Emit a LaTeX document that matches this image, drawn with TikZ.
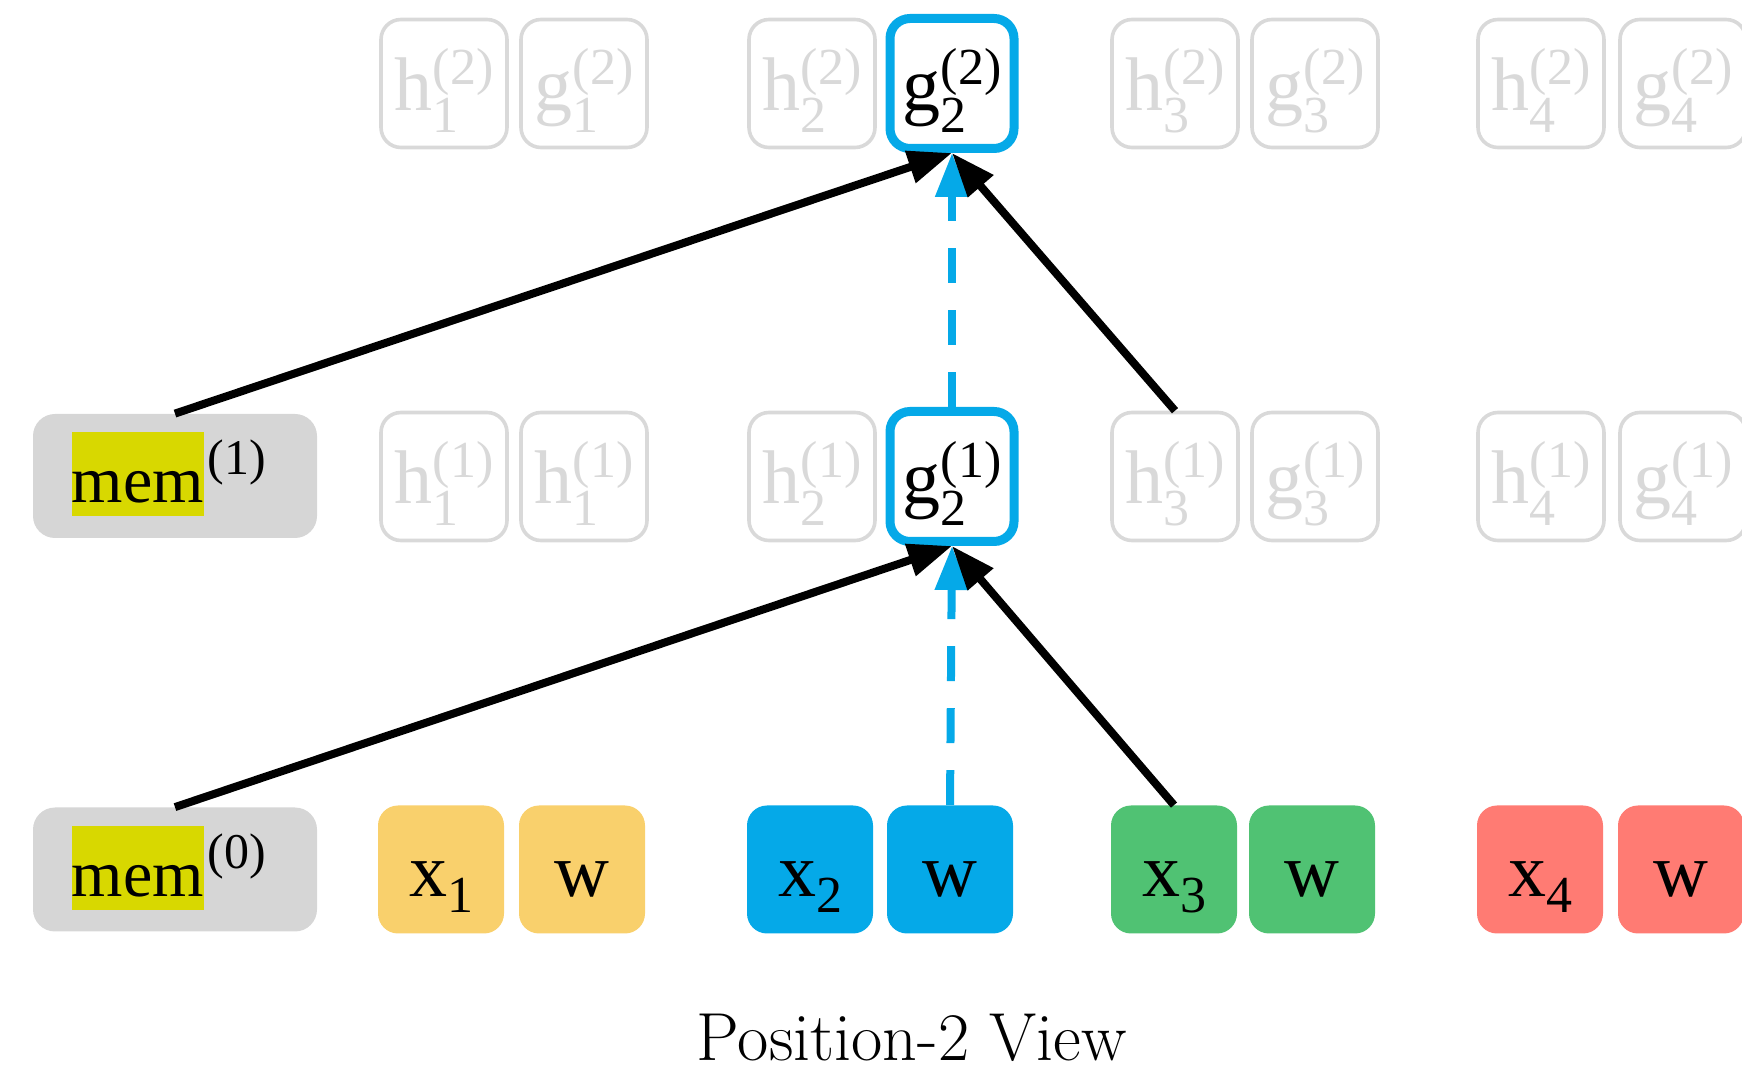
\documentclass[tikz,border=0pt]{standalone}
\usepackage{fontspec}
\newfontfamily\boxfont{Liberation Serif}
\usetikzlibrary{arrows.meta}
\definecolor{fadegray}{HTML}{D9D9D9}
\definecolor{focusblue}{HTML}{05A9E8}
\definecolor{tokyellow}{HTML}{F9D06C}
\definecolor{tokgreen}{HTML}{50C273}
\definecolor{tokred}{HTML}{FF7B73}
\definecolor{memgray}{HTML}{D6D6D6}
\definecolor{memhl}{HTML}{D8D800}
\newcommand{\scrsz}{\fontsize{26}{26}\selectfont}
\newcommand{\hs}[3]{#1\rlap{\raisebox{-11pt}{\scrsz #2}}\raisebox{13pt}{\scrsz(#3)}}
\newcommand{\xs}[2]{#1\raisebox{-8pt}{\scrsz #2}}
\newcommand{\memtxt}[1]{{\setlength{\fboxsep}{0pt}\colorbox{memhl}{\rule[-0.2em]{0pt}{1.27em}mem}}\hspace{2pt}\raisebox{14pt}{\fontsize{25}{25}\selectfont(#1)}}
\tikzset{
  cell/.style={rounded corners=10pt, minimum width=63pt, minimum height=64pt, inner sep=0pt, text height=27pt, text depth=0pt, font=\boxfont\fontsize{38}{40}\selectfont},
  faded/.style={cell, draw=fadegray, line width=1.8pt, text=fadegray, fill=white},
  focus/.style={cell, draw=focusblue, line width=4.5pt, fill=white, text=black, minimum width=62pt, minimum height=65pt},
  tok/.style={cell, text=black, fill=#1},
  membox/.style={rounded corners=11pt, fill=memgray, minimum width=142pt, minimum height=62pt, inner sep=0pt, text height=27pt, text depth=0pt, font=\boxfont\fontsize{33}{38}\selectfont},
  conn/.style={line width=4pt, -{Triangle[length=22pt,width=16pt]}},
  dconn/.style={conn, draw=focusblue, dash pattern=on 17.5pt off 13.5pt}
}
\begin{document}
\begin{tikzpicture}[x=0.5pt,y=-0.5pt]
\useasboundingbox (0,0) rectangle (1742,1074);
\clip (0,0) rectangle (1742,1074);
% layer 2
\node[faded] (h12) at (444,83.5) {\hs{h}{1}{2}};
\node[faded] (g12) at (584,83.5) {\hs{g}{1}{2}};
\node[faded] (h22) at (812,83.5) {\hs{h}{2}{2}};
\node[focus] (g22) at (952,83.5) {\hs{g}{2}{2}};
\node[faded] (h32) at (1175,83.5) {\hs{h}{3}{2}};
\node[faded] (g32) at (1315,83.5) {\hs{g}{3}{2}};
\node[faded] (h42) at (1541,83.5) {\hs{h}{4}{2}};
\node[faded] (g42) at (1683,83.5) {\hs{g}{4}{2}};
% layer 1
\node[membox] (mem1) at (175,476) {\hspace{-6pt}\memtxt{1}};
\node[faded] (h11) at (444,476.5) {\hs{h}{1}{1}};
\node[faded] (g11) at (584,476.5) {\hs{h}{1}{1}};
\node[faded] (h21) at (812,476.5) {\hs{h}{2}{1}};
\node[focus] (g21) at (952,476.5) {\hs{g}{2}{1}};
\node[faded] (h31) at (1175,476.5) {\hs{h}{3}{1}};
\node[faded] (g31) at (1315,476.5) {\hs{g}{3}{1}};
\node[faded] (h41) at (1541,476.5) {\hs{h}{4}{1}};
\node[faded] (g41) at (1683,476.5) {\hs{g}{4}{1}};
% layer 0
\node[membox] (mem0) at (175,869.5) {\hspace{-6pt}\memtxt{0}};
\node[tok=tokyellow] (x1) at (441,869.5) {\xs{x}{1}};
\node[tok=tokyellow] (w1) at (582,869.5) {w};
\node[tok=focusblue] (x2) at (810,869.5) {\xs{x}{2}};
\node[tok=focusblue] (w2) at (950,869.5) {w};
\node[tok=tokgreen] (x3) at (1174,869.5) {\xs{x}{3}};
\node[tok=tokgreen] (w3) at (1312,869.5) {w};
\node[tok=tokred] (x4) at (1540,869.5) {\xs{x}{4}};
\node[tok=tokred] (w4) at (1681,869.5) {w};
% connectors
\draw[dconn] (g21.north) -- (g22.south);
\draw[conn] (mem1.north) -- (g22.south);
\draw[conn] (h31.north) -- (g22.south);
\draw[dconn] (w2.north) -- (g21.south);
\draw[conn] (mem0.north) -- (g21.south);
\draw[conn] (x3.north) -- (g21.south);
% caption
\node[font=\fontsize{34}{40}\selectfont] (cap) at (912,1038) {Position-2 View};
\end{tikzpicture}
\end{document}
